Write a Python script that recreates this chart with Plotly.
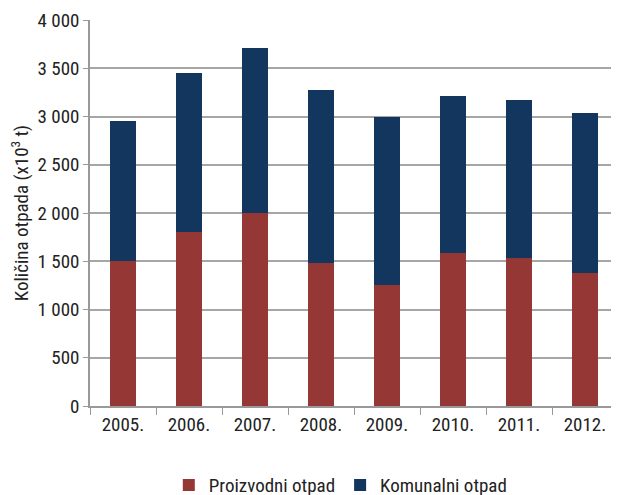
import plotly.graph_objects as go

godine = ["2005.", "2006.", "2007.", "2008.", "2009.", "2010.", "2011.", "2012."]
proizvodni = [1500, 1800, 2000, 1480, 1250, 1590, 1530, 1380]
komunalni = [1450, 1650, 1710, 1790, 1750, 1620, 1640, 1660]

FONT = "Roboto Condensed, DejaVu Sans Condensed, Liberation Sans Narrow, Roboto, sans-serif"

fig = go.Figure()
fig.add_trace(go.Bar(
    x=godine,
    y=proizvodni,
    name="Proizvodni otpad",
    marker=dict(color="#953735", line=dict(width=0)),
))
fig.add_trace(go.Bar(
    x=godine,
    y=komunalni,
    name="Komunalni otpad",
    marker=dict(color="#12365E", line=dict(width=0)),
))
# page body has an 8px default margin, so the figure is a bit smaller
fig.update_layout(
    barmode="stack",
    bargap=0.6,
    width=611,
    height=487,
    margin=dict(l=82, r=1, t=12, b=89, autoexpand=False),
    plot_bgcolor="white",
    paper_bgcolor="white",
    separators=", ",
    font=dict(family=FONT, size=18, color="#222"),
    showlegend=True,
    legend=dict(
        orientation="h",
        x=0.475, xanchor="center",
        y=-0.205, yanchor="middle",
        font=dict(size=19),
        traceorder="normal",
        tracegroupgap=0,
    ),
    xaxis=dict(
        automargin=False,
        showline=True,
        linecolor="#999",
        linewidth=1.5,
        ticks="outside",
        tickson="boundaries",
        ticklen=7,
        tickcolor="#999",
        tickfont=dict(size=19),
    ),
    yaxis=dict(
        automargin=False,
        range=[0, 4000],
        dtick=500,
        separatethousands=True,
        showline=True,
        linecolor="#999",
        linewidth=1.5,
        showgrid=True,
        gridcolor="#a6a6a6",
        gridwidth=1.5,
        ticks="outside",
        ticklen=5,
        tickcolor="#999",
        tickfont=dict(size=19),
        title=dict(text="Količina otpada (x10<sup>3</sup> t)", font=dict(size=19), standoff=14),
        zeroline=False,
    ),
)
fig.write_html("out.html")
